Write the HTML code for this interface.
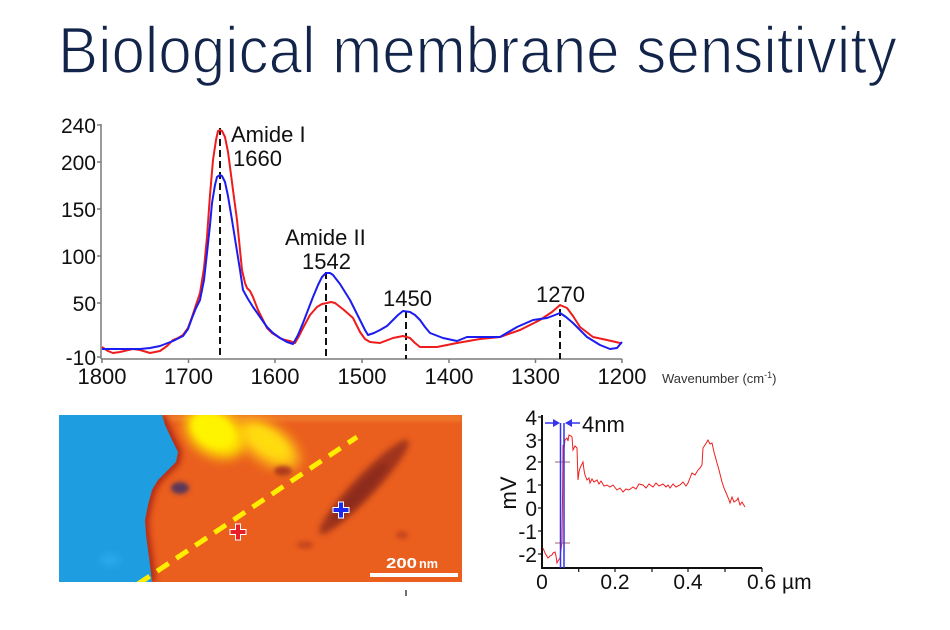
<!DOCTYPE html>
<html><head><meta charset="utf-8"><style>
html,body{margin:0;padding:0;background:#fff;}
svg{display:block;}
text{font-family:"Liberation Sans",sans-serif;}
</style></head><body>
<svg width="950" height="630" viewBox="0 0 950 630" xmlns="http://www.w3.org/2000/svg">
<defs>
<filter id="b2" x="-50%" y="-50%" width="200%" height="200%"><feGaussianBlur stdDeviation="2"/></filter>
<filter id="b3" x="-50%" y="-50%" width="200%" height="200%"><feGaussianBlur stdDeviation="3"/></filter>
<filter id="b4" x="-50%" y="-50%" width="200%" height="200%"><feGaussianBlur stdDeviation="4"/></filter>
<filter id="b6" x="-50%" y="-50%" width="200%" height="200%"><feGaussianBlur stdDeviation="6"/></filter>
<clipPath id="imgclip"><rect x="59" y="415" width="403" height="167"/></clipPath>
</defs>
<rect width="950" height="630" fill="#fff"/>
<text x="58" y="73" font-size="66" fill="#12244a" stroke="#ffffff" stroke-width="1.6" paint-order="fill" textLength="839" lengthAdjust="spacingAndGlyphs">Biological membrane sensitivity</text>

<!-- Top chart axes -->
<g stroke="#7a7a7a" stroke-width="1.5" fill="none">
<line x1="101" y1="124" x2="101" y2="359"/>
<line x1="101" y1="359" x2="622" y2="359"/>
<line x1="97" y1="125" x2="101" y2="125"/>
<line x1="97" y1="162" x2="101" y2="162"/>
<line x1="97" y1="209" x2="101" y2="209"/>
<line x1="97" y1="256" x2="101" y2="256"/>
<line x1="97" y1="303" x2="101" y2="303"/>
<line x1="97" y1="357" x2="101" y2="357"/>
<line x1="102" y1="359" x2="102" y2="363"/>
<line x1="188.5" y1="359" x2="188.5" y2="363"/>
<line x1="275" y1="359" x2="275" y2="363"/>
<line x1="362" y1="359" x2="362" y2="363"/>
<line x1="449" y1="359" x2="449" y2="363"/>
<line x1="535.5" y1="359" x2="535.5" y2="363"/>
<line x1="622" y1="359" x2="622" y2="363"/>
</g>
<g font-size="21" fill="#111" text-anchor="end">
<text x="96" y="133">240</text>
<text x="96" y="170">200</text>
<text x="96" y="217">150</text>
<text x="96" y="264">100</text>
<text x="96" y="311">50</text>
<text x="96" y="365">-10</text>
</g>
<g font-size="22" fill="#111" text-anchor="middle">
<text x="102" y="384">1800</text>
<text x="188.5" y="384">1700</text>
<text x="275" y="384">1600</text>
<text x="362" y="384">1500</text>
<text x="449" y="384">1400</text>
<text x="535.5" y="384">1300</text>
<text x="622" y="384">1200</text>
</g>
<text x="662" y="383" font-size="13" fill="#333">Wavenumber (cm<tspan font-size="9" dy="-5">-1</tspan><tspan dy="5">)</tspan></text>

<!-- dashed lines -->
<g stroke="#111" stroke-width="2" stroke-dasharray="7,4">
<line x1="220" y1="128" x2="220" y2="359"/>
<line x1="326" y1="272" x2="326" y2="359"/>
<line x1="406" y1="311" x2="406" y2="359"/>
<line x1="560" y1="309" x2="560" y2="359"/>
</g>

<!-- curves -->
<polyline fill="none" stroke="#ee1c1c" stroke-width="2" stroke-linejoin="round" points="102,347 108,351 113,353 120,352 133,349 140,350 150,353 160,351 167,346 173,340 178,338 183,335 188,328 192,317 196,305 200,293 204,268 207,237 210,195 213,160 216,140 218,131 220,130 222,131 225,137 228,152 230,167 233,190 237,220 240,250 242,270 245,283 247,288 250,291 253,297 258,310 262,318 267,328 272,333 280,338 285,340 290,341 295,343 299,336 303,328 310,315 317,307 322,304 327,303 331,302 335,303 344,310 353,318 360,332 365,339 370,342 380,343 393,338 403,336 410,338 415,343 420,347 437,347 457,343 480,339 500,337 520,330 540,320 552,312 560,305 567,308 573,316 580,327 593,337 607,340 620,343 622,343"/>
<polyline fill="none" stroke="#1c1cee" stroke-width="2" stroke-linejoin="round" points="102,349 120,349 140,349 150,348 160,346 173,341 183,336 188,329 192,318 196,308 200,300 204,280 207,253 210,225 212,203 215,185 217,177 220,175 222,176 225,182 228,196 232,220 236,245 240,270 243,290 248,299 253,307 260,317 267,327 273,333 280,338 287,342 293,344 298,335 303,323 308,310 313,297 318,285 322,277 326,273 330,273 333,275 340,284 350,300 360,320 365,330 368,335 374,333 380,330 387,326 393,320 398,315 403,311 410,312 415,315 420,320 425,327 430,333 443,338 457,341 467,337 487,337 500,337 517,327 533,320 547,318 555,315 560,313 566,317 573,323 580,330 587,337 600,345 610,349 617,348 622,342"/>

<g font-size="22" fill="#111">
<text x="231" y="142">Amide I</text>
<text x="233" y="166">1660</text>
<text x="285" y="245">Amide II</text>
<text x="302" y="269">1542</text>
<text x="383" y="306">1450</text>
<text x="536" y="302">1270</text>
</g>

<!-- image -->
<g clip-path="url(#imgclip)">
<rect x="59" y="415" width="403" height="167" fill="#ea5e1e"/>
<rect x="59" y="415" width="403" height="6" fill="#f07a2a" filter="url(#b2)"/>
<ellipse cx="268" cy="444" rx="36" ry="18" fill="#ffc418" filter="url(#b6)" transform="rotate(35 268 444)"/>
<ellipse cx="268" cy="442" rx="24" ry="11" fill="#ffdc10" filter="url(#b4)" transform="rotate(35 268 442)"/>
<ellipse cx="215" cy="433" rx="32" ry="22" fill="#ffe800" filter="url(#b6)" transform="rotate(30 215 433)"/>
<ellipse cx="213" cy="430" rx="22" ry="15" fill="#fff400" filter="url(#b3)" transform="rotate(30 213 430)"/>
<ellipse cx="364" cy="487" rx="64" ry="11" fill="#a0341c" filter="url(#b3)" transform="rotate(-46.6 364 487)"/>
<ellipse cx="360" cy="492" rx="40" ry="6" fill="#8c2c1a" filter="url(#b3)" transform="rotate(-46.6 360 492)"/>
<ellipse cx="283" cy="471" rx="9" ry="5" fill="#b03a1c" filter="url(#b2)"/>
<ellipse cx="305" cy="545" rx="8" ry="4" fill="#c8461c" filter="url(#b2)"/>
<ellipse cx="402" cy="535" rx="6" ry="4" fill="#c8461c" filter="url(#b2)"/>
<path d="M162,415 L165,425 L172,440 L178,452 L176,462 L168,470 L158,480 L152,490 L148,505 L145,520 L146,535 L148,550 L150,565 L152,582" fill="none" stroke="#b02c12" stroke-width="8" filter="url(#b3)"/>
<path d="M59,415 L162,415 L165,425 L172,440 L178,452 L176,462 L168,470 L158,480 L152,490 L148,505 L145,520 L146,535 L148,550 L150,565 L152,582 L59,582 Z" fill="#1e9ee0"/>
<ellipse cx="180" cy="488" rx="9" ry="6" fill="#5a3858" filter="url(#b2)"/>
<ellipse cx="110" cy="560" rx="10" ry="6" fill="#2aaaee" filter="url(#b4)"/>
<line x1="138" y1="584" x2="357" y2="437" stroke="#ffee00" stroke-width="5" stroke-dasharray="14,9"/>
<g transform="translate(238,532)">
<path d="M-2.5,-8 H2.5 V-2.5 H8 V2.5 H2.5 V8 H-2.5 V2.5 H-8 V-2.5 H-2.5 Z" fill="#e8202a" stroke="#ffffff" stroke-width="1"/>
</g>
<g transform="translate(341,510)">
<path d="M-2.5,-8 H2.5 V-2.5 H8 V2.5 H2.5 V8 H-2.5 V2.5 H-8 V-2.5 H-2.5 Z" fill="#1a2aee" stroke="#ffffff" stroke-width="1"/>
</g>
<rect x="370" y="573" width="88" height="4" fill="#fff"/>
<text x="386" y="568" font-size="15" font-weight="bold" fill="#fff" textLength="31" lengthAdjust="spacingAndGlyphs">200</text>
<text x="419" y="568" font-size="13" font-weight="bold" fill="#fff" textLength="19" lengthAdjust="spacingAndGlyphs">nm</text>
</g>
<line x1="406" y1="590" x2="406" y2="596" stroke="#111" stroke-width="1.2"/>

<!-- right chart -->
<g stroke="#111" stroke-width="2" fill="none">
<line x1="542" y1="415" x2="542" y2="569"/>
<line x1="541" y1="568" x2="762" y2="568"/>
</g>
<g stroke="#111" stroke-width="1.2">
<line x1="538" y1="417" x2="542" y2="417"/>
<line x1="538" y1="440" x2="542" y2="440"/>
<line x1="538" y1="462" x2="542" y2="462"/>
<line x1="538" y1="485" x2="542" y2="485"/>
<line x1="538" y1="508" x2="542" y2="508"/>
<line x1="538" y1="531" x2="542" y2="531"/>
<line x1="538" y1="554" x2="542" y2="554"/>
<line x1="578.7" y1="568" x2="578.7" y2="572"/>
<line x1="615" y1="568" x2="615" y2="572"/>
<line x1="652" y1="568" x2="652" y2="572"/>
<line x1="688" y1="568" x2="688" y2="572"/>
<line x1="725" y1="568" x2="725" y2="572"/>
<line x1="762" y1="568" x2="762" y2="572"/>
</g>
<g font-size="21" fill="#111" text-anchor="end">
<text x="537" y="425">4</text>
<text x="537" y="448">3</text>
<text x="537" y="470">2</text>
<text x="537" y="493">1</text>
<text x="537" y="516">0</text>
<text x="537" y="539">-1</text>
<text x="537" y="562">-2</text>
</g>
<g font-size="21" fill="#111" text-anchor="middle">
<text x="542" y="589">0</text>
<text x="615" y="589">0.2</text>
<text x="688" y="589">0.4</text>
</g>
<text x="747" y="589" font-size="21" fill="#111">0.6 µm</text>
<text x="0" y="0" font-size="22" fill="#111" text-anchor="middle" transform="translate(516,493) rotate(-90)">mV</text>

<polyline fill="none" stroke="#ee2020" stroke-width="1" points="543,548 545,553 548,558 550,556 552,555 553,553 555,552 556,556 557,563 558,561 560,558 561,550 562,542 562.5,500 563,445 564,448 565,440 567,438 568,441 569,435 571,436 572,437 573,450 575,446 577,448 578,480 579,472 580,468 582,464 583,462 584,470 585,475 587,480 589,478 590,483 592,479 594,482 597,480 599,484 601,481 604,486 607,485 610,487 613,485 617,490 620,488 623,492 626,489 629,490 633,487 636,489 639,484 643,485 646,488 649,484 653,487 656,483 659,486 663,484 666,487 668,485 670,488 673,484 676,487 680,485 683,482 686,486 688,483 690,478 692,473 695,475 698,470 700,468 702,465 703,448 705,445 708,440 710,444 712,443 714,452 717,463 719,470 722,482 724,488 727,495 729,500 730,503 732,497 734,502 737,500 738,498 740,505 742,502 745,507"/>
<g stroke="#a06060" stroke-width="1">
<line x1="555" y1="462" x2="570" y2="462"/>
<line x1="555" y1="543" x2="570" y2="543"/>
</g>
<g stroke="#3333ee" stroke-width="1.5">
<line x1="560.5" y1="423" x2="560.5" y2="568"/>
<line x1="564" y1="423" x2="564" y2="568"/>
<line x1="545" y1="423" x2="555" y2="423"/>
<line x1="570" y1="423" x2="580" y2="423"/>
</g>
<path d="M560,423 L553,419 L553,427 Z" fill="#3333ee"/>
<path d="M565,423 L572,419 L572,427 Z" fill="#3333ee"/>
<text x="582" y="432" font-size="22" fill="#111">4nm</text>
</svg>
</body></html>
